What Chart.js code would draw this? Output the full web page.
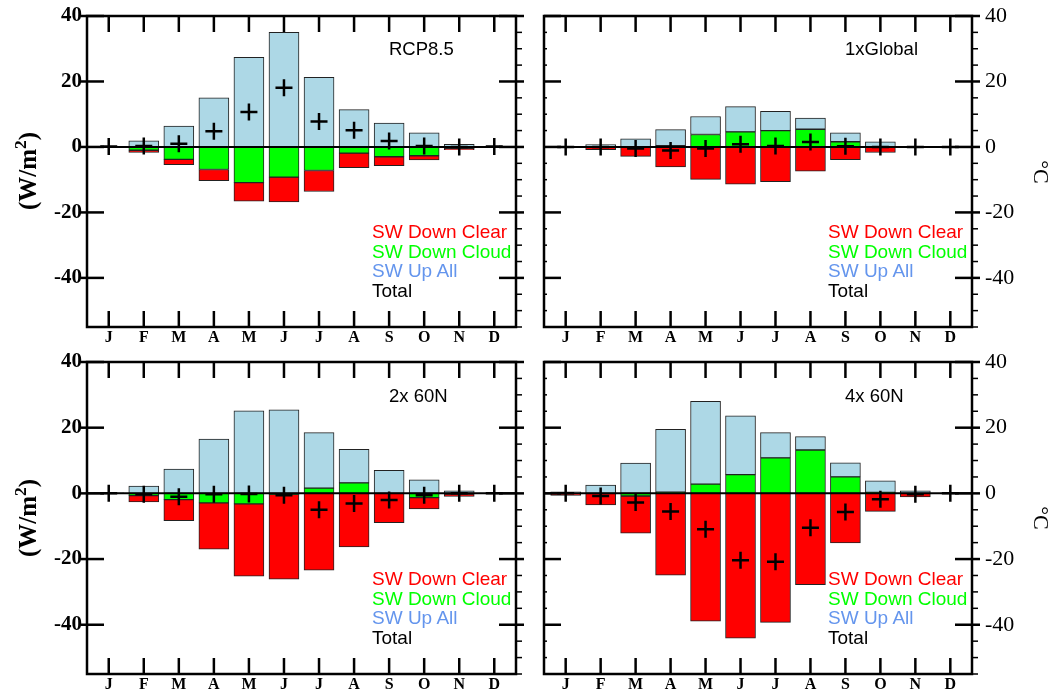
<!DOCTYPE html>
<html>
<head>
<meta charset="utf-8">
<script src="https://cdn.jsdelivr.net/npm/chart.js@4.4.1/dist/chart.umd.min.js"></script>
<style>
  body { margin: 0; background: #fff; }
  #wrap { position: relative; width: 1050px; height: 696px; overflow: hidden; background: #fff; }
  canvas { position: absolute; }
  .lbl { position: absolute; font-family: "Liberation Sans", Arial, sans-serif; font-size: 19px; line-height: 19.5px; white-space: nowrap; }
  .lbl .c1 { color: #ff0000; }
  .lbl .c2 { color: #00ff00; }
  .lbl .c3 { color: #6495ed; }
  .lbl .c4 { color: #000; }
  .title { position: absolute; font-family: "Liberation Sans", Arial, sans-serif; font-size: 18.5px; line-height: 20px; white-space: nowrap; color: #000; }
  .ytitle { position: absolute; font-family: "Liberation Serif", "Times New Roman", serif; font-weight: bold; font-size: 25px; white-space: nowrap; transform: translate(-50%, -50%) rotate(-90deg); }
  .ytitle sup { font-size: 70%; }
  .rtitle { position: absolute; font-family: "Liberation Serif", "Times New Roman", serif; font-size: 22px; white-space: nowrap; transform: translate(-50%, -50%) rotate(90deg); }
</style>
</head>
<body>
<div id="wrap">
  <canvas id="c1" width="530" height="348" style="left:0;top:0"></canvas>
  <canvas id="c2" width="520" height="348" style="left:530px;top:0"></canvas>
  <canvas id="c3" width="530" height="348" style="left:0;top:348px"></canvas>
  <canvas id="c4" width="520" height="348" style="left:530px;top:348px"></canvas>

  <div class="title" style="left:389px;top:39px">RCP8.5</div>
  <div class="title" style="left:845px;top:39px">1xGlobal</div>
  <div class="title" style="left:389px;top:386px">2x 60N</div>
  <div class="title" style="left:845px;top:386px">4x 60N</div>

  <div class="lbl" style="left:372px;top:222px"><div class="c1">SW Down Clear</div><div class="c2">SW Down Cloud</div><div class="c3">SW Up All</div><div class="c4">Total</div></div>
  <div class="lbl" style="left:828px;top:222px"><div class="c1">SW Down Clear</div><div class="c2">SW Down Cloud</div><div class="c3">SW Up All</div><div class="c4">Total</div></div>
  <div class="lbl" style="left:372px;top:569px"><div class="c1">SW Down Clear</div><div class="c2">SW Down Cloud</div><div class="c3">SW Up All</div><div class="c4">Total</div></div>
  <div class="lbl" style="left:828px;top:569px"><div class="c1">SW Down Clear</div><div class="c2">SW Down Cloud</div><div class="c3">SW Up All</div><div class="c4">Total</div></div>

  <div class="ytitle" style="left:26px;top:171px">(W/m<sup>2</sup>)</div>
  <div class="ytitle" style="left:26px;top:518px">(W/m<sup>2</sup>)</div>
  <div class="rtitle" style="left:1041px;top:172px">°C</div>
  <div class="rtitle" style="left:1041px;top:518px">°C</div>
</div>

<script>
const months = ["J", "F", "M", "A", "M", "J", "J", "A", "S", "O", "N", "D"];
const yTicks = [-40, -20, 0, 20, 40];

// RCP8.5
const rcpCloud = [0, -1.0, -3.8, -6.9, -10.9, -9.2, -7.2, -1.9, -3.0, -2.7, -0.5, 0];
const rcpUp = [0.2, 1.9, 6.4, 15.0, 27.4, 35.0, 21.3, 11.4, 7.3, 4.3, 0.8, 0.2];
const rcpClear = [0, -0.7, -1.6, -3.4, -5.7, -7.6, -6.4, -4.4, -2.7, -1.3, -0.3, 0];
const rcpTotal = [0.1, 0.3, 1.0, 4.8, 10.7, 18.1, 7.8, 5.1, 1.8, 0.3, 0, 0.1];

// 1xGlobal
const glbCloud = [0, 0, 0, 0.4, 3.8, 4.6, 5.0, 5.4, 1.6, 0, 0, 0];
const glbUp = [0, 0.7, 2.5, 4.9, 5.5, 7.7, 5.9, 3.4, 2.7, 1.6, 0.1, 0];
const glbClear = [0, -0.8, -2.9, -6.1, -9.9, -11.4, -10.6, -7.4, -3.9, -1.7, 0, 0];
const glbTotal = [0, 0, -0.5, -1.1, -0.5, 0.8, 0.3, 1.5, 0.2, 0, 0, 0];

// 2x 60N
const n2Cloud = [0, -0.7, -1.9, -2.9, -3.2, -0.3, 1.6, 3.2, 0, -1.3, -0.2, 0];
const n2Up = [0.2, 2.2, 7.4, 16.5, 25.1, 25.4, 16.9, 10.2, 7.0, 4.1, 0.8, 0.1];
const n2Clear = [0, -1.9, -6.4, -14.1, -22.0, -25.8, -23.4, -16.3, -8.9, -3.4, -0.7, 0];
const n2Total = [0, -0.3, -1.0, -0.3, -0.2, -0.6, -5.0, -3.1, -2.0, -0.6, 0, 0];

// 4x 60N
const n4Cloud = [0, 0, -0.8, 0.4, 2.8, 5.7, 10.8, 13.2, 5.0, 0.3, 0, 0];
const n4Up = [0.5, 2.5, 9.2, 19.1, 25.2, 17.9, 7.7, 4.1, 4.3, 3.5, 0.8, 0];
const n4Clear = [-0.6, -3.5, -11.3, -24.9, -38.9, -44.1, -39.3, -27.8, -15.1, -5.5, -1.1, 0];
const n4Total = [0, -0.8, -2.8, -5.5, -10.9, -20.4, -20.8, -10.5, -5.7, -1.8, -0.3, 0];

// frame, zero line and inward ticks
const frameTicks = {
  id: "frameTicks",
  afterDatasetsDraw(chart) {
    const { ctx, chartArea: a, scales: { x, y } } = chart;
    const side = y.options.position;
    const seg = (x1, y1, x2, y2) => {
      ctx.beginPath();
      ctx.moveTo(x1, y1);
      ctx.lineTo(x2, y2);
      ctx.stroke();
    };
    ctx.save();
    ctx.strokeStyle = "#000";
    ctx.lineWidth = 2;
    const y0 = y.getPixelForValue(0);
    seg(a.left, y0, a.right, y0);

    ctx.lineWidth = 2.5;
    months.forEach((m, i) => {
      const px = x.getPixelForValue(i + 1);
      seg(px, a.top, px, a.top + 16);
      seg(px, a.bottom - 16, px, a.bottom);
    });

    for (let v = -55; v <= 40; v += 5) {
      const py = y.getPixelForValue(v);
      if (v % 20 === 0) {
        ctx.lineWidth = 2.5;
        seg(a.left - (side === "left" ? 6 : 0), py, a.left + 17, py);
        seg(a.right - 17, py, a.right + 8, py);
      } else {
        ctx.lineWidth = 1.5;
        seg(a.right, py, a.right + 6, py);
        if (side === "right") seg(a.left, py, a.left + 3, py);
      }
    }

    ctx.lineWidth = 2.5;
    ctx.strokeRect(a.left, a.top, a.right - a.left, a.bottom - a.top);
    ctx.restore();
  },
};

function pts(arr) {
  return arr.map((v, i) => ({ x: i + 1, y: v }));
}

function noPad(s) {
  s.paddingTop = 0;
  s.paddingBottom = 0;
  s.paddingLeft = 0;
  s.paddingRight = 0;
}

function panel(id, side, padTop, xHeight, cloud, up, clear, total) {
  const ctx = document.getElementById(id).getContext("2d");
  return new Chart(ctx, {
    type: "bar",
    data: {
      datasets: [
        { label: "SW Down Cloud", data: pts(cloud), backgroundColor: "#00ff00", stack: "sw", order: 1 },
        { label: "SW Up All", data: pts(up), backgroundColor: "#add8e6", stack: "sw", order: 1 },
        { label: "SW Down Clear", data: pts(clear), backgroundColor: "#ff0000", stack: "sw", order: 1 },
        {
          type: "line",
          label: "Total",
          data: pts(total),
          stack: "tot",
          order: 0,
          showLine: false,
          pointStyle: "cross",
          pointRadius: 8.5,
          pointHoverRadius: 8.5,
          pointBorderWidth: 2.5,
          pointBorderColor: "#000",
          pointBackgroundColor: "#000",
          borderColor: "#000",
          backgroundColor: "#000",
          clip: false,
        },
      ],
    },
    options: {
      responsive: false,
      animation: false,
      layout: {
        padding: {
          top: padTop,
          left: side === "right" ? 14 : 0,
          right: side === "left" ? 14 : 0,
        },
      },
      plugins: {
        legend: { display: false },
        tooltip: { enabled: false },
      },
      datasets: {
        bar: {
          borderColor: "#222",
          borderWidth: 1,
          borderSkipped: false,
          barThickness: 30,
        },
      },
      scales: {
        x: {
          type: "linear",
          min: 0.38,
          max: 12.62,
          offset: false,
          stacked: true,
          grid: { display: false, drawTicks: false },
          border: { display: false },
          afterBuildTicks: (s) => {
            s.ticks = months.map((m, i) => ({ value: i + 1 }));
          },
          afterFit: (s) => {
            s.height = xHeight;
            noPad(s);
          },
          ticks: {
            callback: (v) => months[v - 1],
            autoSkip: false,
            maxRotation: 0,
            padding: 1,
            color: "#000",
            font: { family: "Liberation Serif", weight: "bold", size: 16 },
          },
        },
        y: {
          type: "linear",
          position: side,
          min: -55,
          max: 40,
          stacked: true,
          grid: { display: false, drawTicks: false },
          border: { display: false },
          afterBuildTicks: (s) => {
            s.ticks = yTicks.map((v) => ({ value: v }));
          },
          afterFit: (s) => {
            s.width = side === "left" ? 87 : 78;
            noPad(s);
          },
          ticks: {
            padding: side === "left" ? 5 : 13,
            color: "#000",
            font:
              side === "left"
                ? { family: "Liberation Serif", weight: "bold", size: 21 }
                : { family: "Liberation Serif", size: 22 },
          },
        },
      },
    },
    plugins: [frameTicks],
  });
}

panel("c1", "left", 16, 21, rcpCloud, rcpUp, rcpClear, rcpTotal);
panel("c2", "right", 16, 21, glbCloud, glbUp, glbClear, glbTotal);
panel("c3", "left", 14, 22, n2Cloud, n2Up, n2Clear, n2Total);
panel("c4", "right", 14, 22, n4Cloud, n4Up, n4Clear, n4Total);
</script>
</body>
</html>
